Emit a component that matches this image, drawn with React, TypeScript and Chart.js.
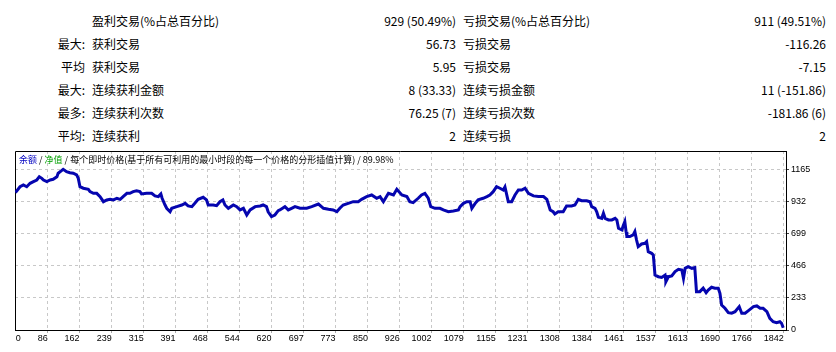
import React, { useEffect, useRef } from "react";
import { Chart, registerables } from "chart.js";

Chart.register(...registerables);

// ---- chart data ----
const tradeNo = [
  9, 20, 28, 36, 44, 52, 60, 66, 72, 76,
  84, 92, 99, 108, 111, 119, 123, 131, 139, 147,
  155, 159, 163, 171, 183, 187, 195, 203, 211, 219,
  227, 235, 243, 251, 259, 266, 275, 282, 290, 298,
  306, 310, 322, 334, 342, 350, 356, 359, 366, 370,
  378, 382, 394, 406, 414, 421, 430, 437, 445, 457,
  465, 469, 481, 489, 497, 504, 509, 517, 529, 537,
  545, 553, 561, 569, 581, 593, 600, 608, 612, 620,
  628, 636, 640, 652, 660, 668, 676, 688, 704, 716,
  732, 744, 756, 767, 776, 783, 791, 803, 815, 827,
  835, 847, 859, 871, 879, 887, 899, 911, 919, 931,
  943, 950, 958, 970, 978, 986, 994, 1000, 1010, 1022,
  1030, 1042, 1054, 1066, 1070, 1078, 1086, 1094, 1098, 1106,
  1113, 1125, 1134, 1141, 1149, 1157, 1165, 1173, 1177, 1185,
  1193, 1201, 1209, 1217, 1225, 1233, 1245, 1257, 1269, 1277,
  1285, 1292, 1296, 1304, 1316, 1324, 1336, 1344, 1352, 1360,
  1372, 1380, 1384, 1392, 1396, 1400, 1408, 1412, 1416, 1424,
  1432, 1440, 1444, 1448, 1456, 1459, 1463, 1466, 1468, 1475,
  1483, 1487, 1491, 1495, 1503, 1511, 1515, 1519, 1527, 1531,
  1535, 1543, 1551, 1559, 1561, 1567, 1575, 1583, 1591, 1599,
  1603, 1607, 1614, 1623, 1630, 1634, 1642, 1650, 1657, 1662,
  1670, 1678, 1686, 1690, 1694, 1702, 1710, 1718, 1726, 1736,
  1742, 1750, 1758, 1770, 1778, 1786, 1793, 1802, 1809, 1817,
  1825, 1833, 1837, 1841,
];

const balance = [
  1000, 1043, 1056, 1043, 1068, 1080, 1092, 1116, 1104, 1092,
  1080, 1092, 1097, 1116, 1141, 1160, 1170, 1153, 1145, 1141,
  1129, 1104, 1043, 1032, 1024, 1007, 995, 995, 971, 934,
  947, 951, 947, 959, 951, 971, 995, 995, 1007, 1014,
  1007, 990, 995, 995, 976, 971, 990, 959, 910, 886,
  861, 886, 898, 910, 922, 903, 898, 922, 951, 966,
  947, 910, 910, 905, 934, 947, 910, 886, 910, 898,
  874, 886, 837, 874, 898, 903, 910, 898, 861, 825,
  837, 869, 874, 898, 874, 886, 898, 886, 886, 898,
  917, 886, 879, 874, 861, 886, 910, 922, 934, 934,
  951, 971, 983, 959, 971, 934, 995, 983, 1024, 983,
  971, 934, 927, 959, 983, 995, 959, 898, 886, 886,
  874, 861, 866, 874, 898, 922, 934, 934, 886, 922,
  947, 959, 971, 983, 1007, 1043, 1032, 1019, 1041, 934,
  934, 983, 1019, 1019, 1032, 995, 976, 971, 971, 951,
  874, 861, 845, 861, 861, 903, 903, 910, 951, 941,
  941, 934, 898, 886, 861, 821, 813, 850, 813, 801,
  801, 813, 801, 740, 728, 757, 789, 716, 680, 680,
  692, 716, 655, 607, 626, 631, 643, 570, 558, 546,
  400, 388, 383, 400, 352, 388, 393, 425, 442, 437,
  376, 449, 461, 449, 454, 279, 279, 304, 272, 291,
  311, 304, 304, 267, 182, 158, 126, 122, 133, 170,
  122, 122, 141, 170, 175, 158, 158, 133, 85, 60,
  53, 60, 49, 17,
];

const xTickLabels = [0, 86, 162, 239, 315, 391, 468, 544, 620, 697, 773, 850, 926, 1002, 1079, 1155, 1231, 1308, 1384, 1461, 1537, 1613, 1690, 1766, 1842];
const yTickValues = [0, 233, 466, 699, 932, 1165];

const X_MIN = 8;
const X_MAX = 1847.6;
const X_ZERO_LABEL_POS = 22; // where the "0" label sits (left edge of axis)
const Y_MAX = 1303;

// ---- summary table text ----
const rowPrefix = ["", "最大:", "平均", "最大:", "最多:", "平均:"];
const winLabels = ["盈利交易(%占总百分比)", "获利交易", "获利交易", "连续获利金额", "连续获利次数", "连续获利"];
const winValues = ["929 (50.49%)", "56.73", "5.95", "8 (33.33)", "76.25 (7)", "2"];
const lossLabels = ["亏损交易(%占总百分比)", "亏损交易", "亏损交易", "连续亏损金额", "连续亏损次数", "连续亏损"];
const lossValues = ["911 (49.51%)", "-116.26", "-7.15", "11 (-151.86)", "-181.86 (6)", "2"];
const rowCenters = [21, 44, 67, 90, 113, 136];

const framePlugin = {
  id: "frame",
  beforeDatasetsDraw(chart: any) {
    const { ctx, chartArea } = chart;
    const { left, top, right, bottom } = chartArea;
    ctx.save();
    ctx.strokeStyle = "#000";
    ctx.lineWidth = 1;
    ctx.setLineDash([]);
    ctx.beginPath();
    ctx.moveTo(left + 0.5, bottom);
    ctx.lineTo(left + 0.5, top + 0.5);
    ctx.lineTo(right, top + 0.5);
    ctx.stroke();
    ctx.restore();
  },
};

const FONT = "'Noto Sans CJK SC', 'Noto Sans', sans-serif";
const TICK_FONT = { family: "'Liberation Sans', Arial, sans-serif", size: 9 };
const GRID_COLOR = "#C8C8C8";

export default function App() {
  const canvasRef = useRef<HTMLCanvasElement | null>(null);

  useEffect(() => {
    const canvas = canvasRef.current;
    if (!canvas) return;
    const chart = new Chart(canvas, {
      type: "line",
      data: {
        datasets: [
          {
            label: "余额",
            data: tradeNo.map((x, i) => ({ x, y: balance[i] })),
            borderColor: "#0505AF",
            borderWidth: 3,
            pointRadius: 0,
            tension: 0,
            fill: false,
          },
        ],
      },
      options: {
        animation: false,
        responsive: false,
        devicePixelRatio: 1,
        layout: { padding: { left: 15, top: 11, right: 0, bottom: 0 } },
        plugins: { legend: { display: false }, tooltip: { enabled: false } },
        scales: {
          x: {
            type: "linear",
            min: X_MIN,
            max: X_MAX,
            afterFit(scale: any) {
              scale.height = 22;
            },
            afterBuildTicks(scale: any) {
              scale.ticks = xTickLabels.map((v, i) => ({ value: i === 0 ? X_ZERO_LABEL_POS : v }));
            },
            grid: {
              color: (c: any) => (c.index === 0 ? "rgba(0,0,0,0)" : GRID_COLOR),
              tickColor: (c: any) => (c.index === 0 ? "rgba(0,0,0,0)" : "#A8A8A8"),
              lineWidth: 1,
              tickLength: 3,
              drawTicks: true,
            },
            border: { display: true, color: "#000", width: 1, dash: [3, 3] },
            ticks: {
              autoSkip: false,
              maxRotation: 0,
              minRotation: 0,
              align: "end",
              padding: 0,
              color: "#000",
              font: TICK_FONT,
              callback: (_v: any, i: number) => String(xTickLabels[i]),
            },
          },
          y: {
            type: "linear",
            position: "right",
            min: 0,
            max: Y_MAX,
            afterFit(scale: any) {
              scale.width = 50;
            },
            afterBuildTicks(scale: any) {
              scale.ticks = yTickValues.map((v) => ({ value: v }));
            },
            grid: {
              color: (c: any) => (c.tick && c.tick.value === 0 ? "rgba(0,0,0,0)" : GRID_COLOR),
              tickColor: "#404040",
              lineWidth: 1,
              tickLength: 3,
            },
            border: { display: true, color: "#000", width: 1, dash: [3, 3] },
            ticks: {
              padding: 2,
              color: "#000",
              font: TICK_FONT,
              callback: (v: any) => String(v),
            },
          },
        },
      },
      plugins: [framePlugin],
    } as any);

    return () => chart.destroy();
  }, []);

  const cell = (text: string, style: React.CSSProperties, key: string) => (
    <div
      key={key}
      style={{
        position: "absolute",
        whiteSpace: "nowrap",
        fontFamily: FONT,
        fontSize: 12,
        lineHeight: "16px",
        color: "#000",
        ...style,
      }}
    >
      {text}
    </div>
  );

  return (
    <div style={{ position: "absolute", left: 0, top: 0, width: 836, height: 352, background: "#fff", overflow: "hidden" }}>
      {rowCenters.map((c, i) => (
        <React.Fragment key={i}>
          {rowPrefix[i] ? cell(rowPrefix[i], { right: 836 - 85, top: c - 8, textAlign: "right" }, "p" + i) : null}
          {cell(winLabels[i], { left: 92, top: c - 8 }, "wl" + i)}
          {cell(winValues[i], { right: 836 - 456, top: c - 8, textAlign: "right" }, "wv" + i)}
          {cell(lossLabels[i], { left: 463, top: c - 8 }, "ll" + i)}
          {cell(lossValues[i], { right: 836 - 826, top: c - 8, textAlign: "right" }, "lv" + i)}
        </React.Fragment>
      ))}
      <div style={{ position: "absolute", left: 0, top: 140, width: 836, height: 212 }}>
        <canvas ref={canvasRef} width={836} height={212} style={{ display: "block", width: 836, height: 212 }} />
        <div
          style={{
            position: "absolute",
            left: 19,
            top: 14,
            fontFamily: FONT,
            fontSize: 9,
            lineHeight: "12px",
            whiteSpace: "nowrap",
            color: "#000",
          }}
        >
          <span style={{ color: "#0000C0" }}>余额</span>
          <span> / </span>
          <span style={{ color: "#00A000" }}>净值</span>
          <span> / 每个即时价格(基于所有可利用的最小时段的每一个价格的分形插值计算) / 89.98%</span>
        </div>
      </div>
    </div>
  );
}
